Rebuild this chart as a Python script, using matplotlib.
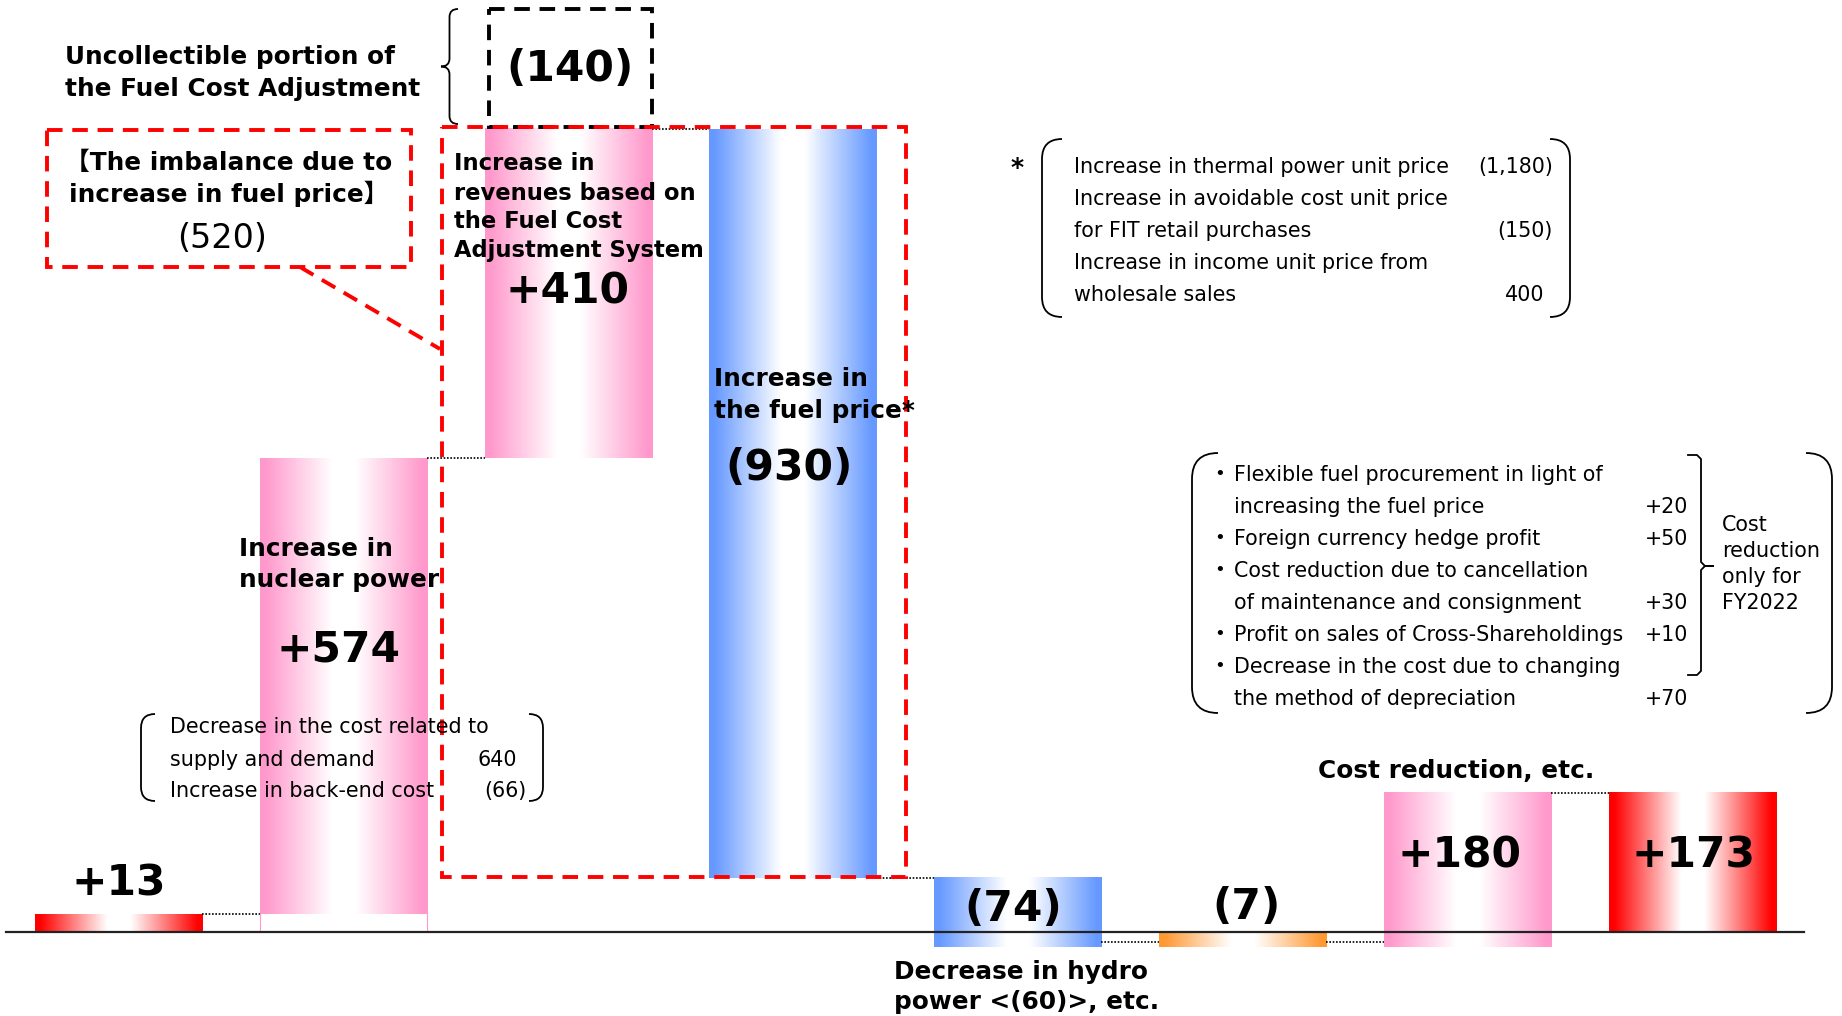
import numpy as np
import matplotlib.pyplot as plt
from matplotlib.path import Path
from matplotlib.patches import PathPatch, Rectangle
from matplotlib.colors import to_rgb

plt.rcParams['font.family'] = ['DejaVu Sans', 'Noto Sans CJK JP']

steps = ["FY2021", "Nuclear power", "Fuel Cost Adjustment", "Fuel price",
         "Hydro power", "Other", "Cost reduction", "FY2022"]
value_labels = ["+13", "+574", "+410", "(930)", "(74)", "(7)", "+180", "+173"]
bar_from = [0, 22, 592, 1004, 68, -1, -19, 0]
bar_to = [22, 592, 1004, 68, -19, -19, 174, 174]
link_level = [22, 592, 1004, 68, -12, -12, 174]
bar_colors = ["#FF0000", "#FF99CC", "#FF99CC", "#6699FF",
              "#6699FF", "#FF9933", "#FF99CC", "#FF0000"]

fuel_notes = ["Increase in thermal power unit price", "Increase in avoidable cost unit price",
              "for FIT retail purchases", "Increase in income unit price from", "wholesale sales"]
fuel_values = ["(1,180)", "", "(150)", "", "400"]

cost_notes = ["Flexible fuel procurement in light of", "increasing the fuel price",
              "Foreign currency hedge profit", "Cost reduction due to cancellation",
              "of maintenance and consignment", "Profit on sales of Cross-Shareholdings",
              "Decrease in the cost due to changing", "the method of depreciation"]
cost_values = ["", "+20", "+50", "", "+30", "+10", "", "+70"]
cost_bullet = [True, False, True, True, False, True, True, False]

nuc_notes = ["Decrease in the cost related to", "supply and demand", "Increase in back-end cost"]
nuc_values = ["", "640", "(66)"]

W, H = 1842, 1016
fig = plt.figure(figsize=(W / 100, H / 100), dpi=100)

# ---- bars in data space
ax = fig.add_axes([0, 0, 1, 1])
ax.axis('off')
bw = 0.743
t = np.linspace(0, 1, 256)
f = np.clip((np.abs(t - 0.5) - 0.07) / 0.40, 0, 1)
for i, (lo, hi, c) in enumerate(zip(bar_from, bar_to, bar_colors)):
    rgb = np.array(to_rgb(c))
    img = 1 - f[:, None] * (1 - rgb)
    ax.imshow(img[None, :, :], extent=[i - bw / 2, i + bw / 2, min(lo, hi), max(lo, hi)],
              aspect='auto', interpolation='bilinear', zorder=2)

# faint edges under the nuclear bar
for xe in (1 - bw / 2, 1 + bw / 2):
    ax.plot([xe, xe], [0, bar_from[1]], color='#FF99CC', lw=0.8, zorder=1)

for i, lvl in enumerate(link_level):
    ax.plot([i + bw / 2, i + 1 - bw / 2], [lvl, lvl], color='k', ls=(0, (1, 1)), lw=1.2, zorder=3)

ax.plot([-0.5, 7.5], [0, 0], color='#222222', lw=1.6, zorder=3)
ax.set_xlim(-0.527, 7.667)
ax.set_ylim(-105, 1165)

# ---- annotations in pixel space
ov = fig.add_axes([0, 0, 1, 1])
ov.set_xlim(0, W)
ov.set_ylim(H, 0)
ov.axis('off')
ov.patch.set_alpha(0)

BL, BN, NT = 17.8, 30.5, 14.9


def txt(x, y, s, size=BL, bold=True, ha='left'):
    ov.text(x, y + 2, s, fontsize=size, fontweight='bold' if bold else 'normal',
            ha=ha, va='center', color='black', zorder=5)


def paren(x, y0, y1, side, r=16, lw=1.3):
    s = 1 if side == 'left' else -1
    v = [(x + s * r, y0), (x, y0), (x, y0 + r), (x, y1 - r), (x, y1), (x + s * r, y1)]
    cd = [Path.MOVETO, Path.CURVE3, Path.CURVE3, Path.LINETO, Path.CURVE3, Path.CURVE3]
    ov.add_patch(PathPatch(Path(v, cd), fill=False, lw=lw, color='black'))


def curly(x, y0, y1, w=17, h=8, lw=1.3):
    ym = (y0 + y1) / 2
    a, b, c = x, x + w / 2, x + w
    v = [(c, y0), (b, y0), (b, y0 + h), (b, ym - h), (b, ym), (a, ym),
         (b, ym), (b, ym + h), (b, y1 - h), (b, y1), (c, y1)]
    cd = [Path.MOVETO, Path.CURVE3, Path.CURVE3, Path.LINETO, Path.CURVE3, Path.CURVE3,
          Path.CURVE3, Path.CURVE3, Path.LINETO, Path.CURVE3, Path.CURVE3]
    ov.add_patch(PathPatch(Path(v, cd), fill=False, lw=lw, color='black'))


def dbox(x0, y0, x1, y1, color, lw=2.8):
    ov.add_patch(Rectangle((x0, y0), x1 - x0, y1 - y0, fill=False, ec=color, lw=lw,
                           ls=(0, (4, 2.5)), zorder=4))


# uncollectible portion
txt(65, 55, "Uncollectible portion of")
txt(65, 87, "the Fuel Cost Adjustment")
curly(441, 9, 124)
dbox(489, 9, 652, 127, 'black')
txt(570, 67, "(140)", BN, ha='center')

# imbalance box
dbox(47, 130, 411, 267, '#FF0000')
txt(229, 161, "\u3010The imbalance due to", ha='center')
txt(229, 192, "increase in fuel price\u3011", ha='center')
txt(222, 236, "(520)", 24, bold=False, ha='center')
ov.plot([300, 440], [267, 349], color='#FF0000', lw=2.8, ls=(0, (4, 2.5)), zorder=4)
dbox(442, 127, 906, 877, '#FF0000')

# fuel cost adjustment bar
for k, s in enumerate(["Increase in", "revenues based on", "the Fuel Cost", "Adjustment System"]):
    txt(454, [162, 191, 219, 248][k], s, 16.3)
txt(567, 289, value_labels[2], BN, ha='center')

# fuel price bar
txt(714, 377, "Increase in")
txt(714, 409, "the fuel price*")
txt(789, 466, value_labels[3], BN, ha='center')

# nuclear
txt(239, 547, "Increase in")
txt(239, 578, "nuclear power")
txt(338, 647, value_labels[1], BN, ha='center')
for k, (s, v) in enumerate(zip(nuc_notes, nuc_values)):
    y = [725, 758, 789][k]
    txt(170, y, s, NT, bold=False)
    if v:
        txt([0, 517, 526][k], y, v, NT, bold=False, ha='right')
paren(141, 714, 801, 'left', r=14)
paren(543, 714, 801, 'right', r=14)

txt(119, 882, value_labels[0], BN, ha='center')
txt(1013, 907, value_labels[4], BN, ha='center')
txt(1246, 905, value_labels[5], BN, ha='center')
txt(1459, 853, value_labels[6], BN, ha='center')
txt(1693, 853, value_labels[7], BN, ha='center')
txt(1456, 769, "Cost reduction, etc.", ha='center')
txt(894, 970, "Decrease in hydro")
txt(894, 1000, "power <(60)>, etc.")

# fuel price breakdown
txt(1010, 166, "*", 18)
for k, (s, v) in enumerate(zip(fuel_notes, fuel_values)):
    y = 165 + 32 * k
    txt(1074, y, s, NT, bold=False)
    if v:
        txt(1553 if v != "400" else 1544, y, v, NT, bold=False, ha='right')
paren(1042, 139, 317, 'left', r=20)
paren(1570, 139, 317, 'right', r=20)

# cost reduction breakdown
for k, (s, v, b) in enumerate(zip(cost_notes, cost_values, cost_bullet)):
    y = 473 + 32 * k
    if b:
        ov.text(1220, y + 2, "\u30fb", fontsize=NT + 3, ha='center', va='center',
                family=['Noto Sans CJK JP'])
    txt(1234, y, s, NT, bold=False)
    if v:
        txt(1688, y, v, NT, bold=False, ha='right')
paren(1192, 453, 713, 'left', r=26)
paren(1832, 453, 713, 'right', r=26)
ov.plot([1688, 1697, 1701, 1701, 1705, 1713, 1705, 1701, 1701, 1697, 1688],
        [455, 455, 459, 562, 566, 566, 566, 570, 671, 675, 675], color='black', lw=1.3)
for k, s in enumerate(["Cost", "reduction", "only for", "FY2022"]):
    txt(1722, 523 + 26 * k, s, NT, bold=False)

fig.savefig("out.png", dpi=100)
